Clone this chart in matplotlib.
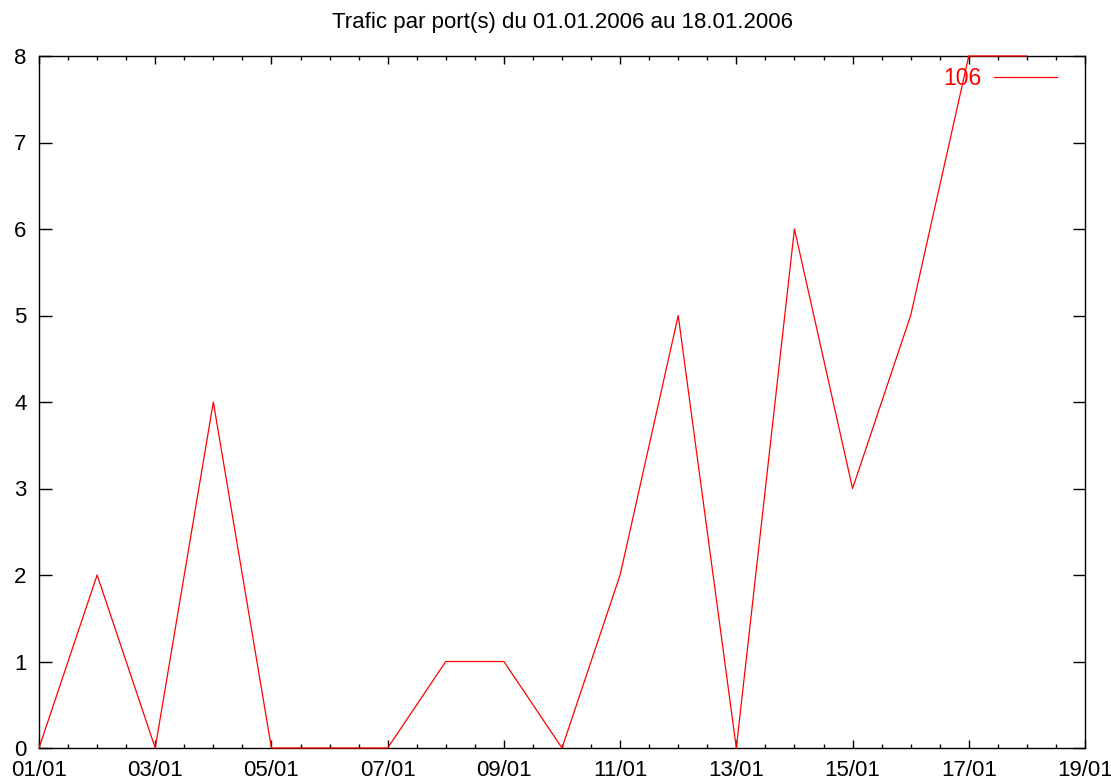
import matplotlib
matplotlib.use("Agg")
import matplotlib.pyplot as plt
import matplotlib.dates as mdates
from matplotlib.ticker import MultipleLocator
import datetime as dt

jours = [dt.datetime(2006, 1, d) for d in range(1, 19)]
trafic = [0, 2, 0, 4, 0, 0, 0, 1, 1, 0, 2, 5, 0, 6, 3, 5, 8, 8]
port = '106'

plt.rcParams['font.family'] = ['Liberation Sans', 'DejaVu Sans']

fig = plt.figure(figsize=(11.11, 7.81), dpi=100)
ax = fig.add_axes([39/1111, 1 - 748/781, (1085-39)/1111, (748-56)/781])

ax.plot(jours, trafic, color='#ff0000', linewidth=0.9, label=port, clip_on=False, zorder=3)

ax.set_xlim(dt.datetime(2006, 1, 1), dt.datetime(2006, 1, 19))
ax.set_ylim(0, 8)
ax.xaxis.set_major_locator(mdates.DayLocator(interval=2))
ax.xaxis.set_minor_locator(mdates.HourLocator(byhour=[0, 12]))
ax.xaxis.set_major_formatter(mdates.DateFormatter('%d/%m'))
ax.yaxis.set_major_locator(MultipleLocator(1))

ax.tick_params(which='both', direction='in', top=True, right=True, labelsize=16, width=1)
ax.tick_params(axis='x', which='major', length=6, pad=8.5)
ax.tick_params(axis='x', which='minor', length=3)
ax.tick_params(axis='y', which='major', length=9, pad=9)
for s in ax.spines.values():
    s.set_linewidth(1)

ax.set_title('Trafic par port(s) du 01.01.2006 au 18.01.2006', fontsize=16, pad=20)

leg = ax.legend(loc='upper right', frameon=False, markerfirst=False, fontsize=16.5,
                handlelength=2.75, handletextpad=0.55, borderaxespad=0.3,
                bbox_to_anchor=(1 - 12/1046, 1 + 5/692))
for t in leg.get_texts():
    t.set_color('#ff0000')

fig.savefig('out.png', dpi=100)
